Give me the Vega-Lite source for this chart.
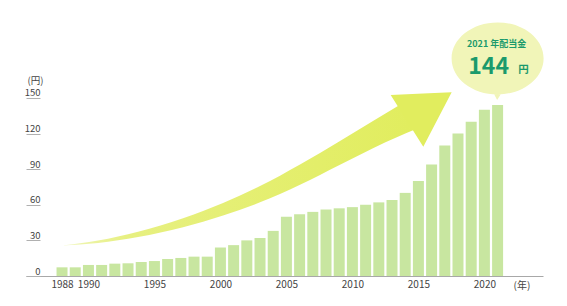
{
  "$schema": "https://vega.github.io/schema/vega-lite/v6.json",
  "width": 517,
  "height": 266,
  "autosize": {"type": "none"},
  "padding": {"left": 26, "top": 10, "right": 24, "bottom": 30},
  "background": "white",
  "config": {"font": "Noto Sans CJK JP", "view": {"stroke": null}},
  "encoding": {
    "x": {
      "field": "year", "type": "quantitative",
      "scale": {"domain": [1985.27, 2024.44], "nice": false, "zero": false, "padding": 0},
      "axis": {
        "values": [1988, 1990, 1995, 2000, 2005, 2010, 2015, 2020],
        "format": "d", "ticks": false, "grid": false, "labelFlush": false,
        "domainColor": "#a8a8a8", "domainWidth": 1,
        "labelFontSize": 10, "labelColor": "#444444", "labelPadding": 3,
        "title": "(年)", "titleFontSize": 10, "titleFontWeight": "normal", "titleColor": "#444444",
        "titleX": 487, "titleY": 9.5, "titleAlign": "left", "titleBaseline": "middle"
      }
    },
    "y": {
      "field": "value", "type": "quantitative",
      "scale": {"domain": [0, 224], "nice": false, "padding": 0},
      "axis": {
        "values": [0, 30, 60, 90, 120, 150],
        "domain": false, "grid": false,
        "tickSize": -14, "tickColor": "#b0b0b0", "tickWidth": 1,
        "labelAlign": "right", "labelBaseline": "alphabetic", "labelOffset": -2, "labelPadding": 0,
        "labelFontSize": 9.5, "labelColor": "#444444",
        "title": "(円)", "titleAngle": 0, "titleX": 1, "titleY": 70,
        "titleAlign": "left", "titleBaseline": "middle",
        "titleFontSize": 9.5, "titleFontWeight": "normal", "titleColor": "#444444"
      }
    }
  },
  "layer": [
    {
      "data": {"values": [
        {"year": 1988.0, "value": 25.6, "bottom": 25.6},
        {"year": 1990.73, "value": 29.81, "bottom": 27.71},
        {"year": 1993.76, "value": 37.22, "bottom": 32.76},
        {"year": 1997.17, "value": 48.59, "bottom": 41.09},
        {"year": 2000.2, "value": 61.39, "bottom": 50.86},
        {"year": 2003.0, "value": 75.71, "bottom": 62.06},
        {"year": 2006.03, "value": 93.89, "bottom": 76.88},
        {"year": 2009.06, "value": 113.77, "bottom": 93.73},
        {"year": 2011.56, "value": 130.44, "bottom": 107.62},
        {"year": 2013.45, "value": 143.07, "bottom": 117.31},
        {"year": 2014.74, "value": 151.66, "bottom": 123.28}
      ]},
      "mark": {
        "type": "area",
        "interpolate": "monotone",
        "color": {
          "gradient": "linear",
          "x1": 0, "y1": 0, "x2": 1, "y2": 0,
          "stops": [
            {"offset": 0, "color": "#f0f6bc"},
            {"offset": 0.18, "color": "#e7f081"},
            {"offset": 1, "color": "#e1ed5e"}
          ]
        }
      },
      "encoding": {"y2": {"field": "bottom"}}
    },
    {
      "data": {"values": [
        {"year": 2012.9, "value": 152.42, "bottom": 152.42},
        {"year": 2015.37, "value": 153.63, "bottom": 108.88},
        {"year": 2017.52, "value": 154.69, "bottom": 154.69}
      ]},
      "mark": {"type": "area", "interpolate": "linear", "color": "#e1ed5e"},
      "encoding": {"y2": {"field": "bottom"}}
    },
    {
      "data": {"values": [
        {"year": 1988, "value": 7.3},
        {"year": 1989, "value": 7.3},
        {"year": 1990, "value": 9.3},
        {"year": 1991, "value": 9.3},
        {"year": 1992, "value": 10.4},
        {"year": 1993, "value": 10.7},
        {"year": 1994, "value": 11.8},
        {"year": 1995, "value": 12.6},
        {"year": 1996, "value": 14.3},
        {"year": 1997, "value": 15.2},
        {"year": 1998, "value": 16.3},
        {"year": 1999, "value": 16.3},
        {"year": 2000, "value": 24},
        {"year": 2001, "value": 26},
        {"year": 2002, "value": 30},
        {"year": 2003, "value": 32},
        {"year": 2004, "value": 38},
        {"year": 2005, "value": 50},
        {"year": 2006, "value": 52},
        {"year": 2007, "value": 54},
        {"year": 2008, "value": 56},
        {"year": 2009, "value": 57},
        {"year": 2010, "value": 58},
        {"year": 2011, "value": 60},
        {"year": 2012, "value": 62},
        {"year": 2013, "value": 64},
        {"year": 2014, "value": 70},
        {"year": 2015, "value": 80},
        {"year": 2016, "value": 94},
        {"year": 2017, "value": 110},
        {"year": 2018, "value": 120},
        {"year": 2019, "value": 130},
        {"year": 2020, "value": 140},
        {"year": 2021, "value": 144}
      ]},
      "mark": {"type": "bar", "orient": "vertical", "width": 11, "color": "#c8e6a0"}
    },
    {
      "data": {"values": [
        {"year": 2021, "value": 144, "label": "2021 年配当金", "unit": "円"}
      ]},
      "layer": [
        {
          "mark": {
            "type": "point", "filled": true, "opacity": 1, "strokeWidth": 0,
            "shape": "M-1,-1.013A1,0.783 0 1,1 1,-1.013A1,0.783 0 1,1 -1,-1.013ZM0.11,-0.3L-0.01,-0.109L-0.11,-0.3Z",
            "size": 8464, "color": "#f1f5b8"
          }
        },
        {
          "mark": {"type": "text", "fontSize": 9, "fontWeight": "bold", "color": "#1b9a6c", "align": "center", "baseline": "middle", "dx": -1, "dy": -61.5},
          "encoding": {"text": {"field": "label"}}
        },
        {
          "mark": {"type": "text", "fontSize": 23, "fontWeight": "bold", "color": "#1b9a6c", "align": "center", "baseline": "middle", "dx": -9, "dy": -38.5},
          "encoding": {"text": {"field": "value", "type": "quantitative", "format": "d"}}
        },
        {
          "mark": {"type": "text", "fontSize": 10.5, "fontWeight": "bold", "color": "#1b9a6c", "align": "center", "baseline": "middle", "dx": 26, "dy": -35},
          "encoding": {"text": {"field": "unit"}}
        }
      ]
    }
  ]
}
